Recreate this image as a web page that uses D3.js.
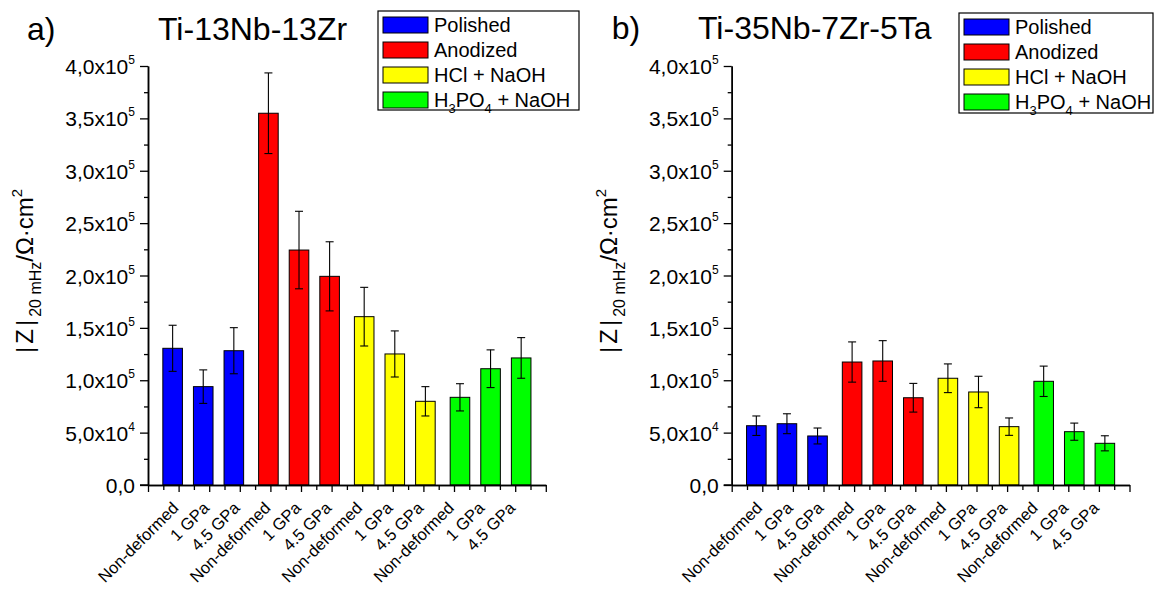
<!DOCTYPE html>
<html>
<head>
<meta charset="utf-8">
<script src="https://cdn.jsdelivr.net/npm/d3@7"></script>
<style>
  html, body { margin: 0; padding: 0; background: #fff; }
  svg { display: block; font-family: "Liberation Sans", Arial, sans-serif; }
</style>
</head>
<body>
<svg id="chart" width="1154" height="590"></svg>
<script>
// ---- data ----
const conditions = ["Non-deformed", "1 GPa", "4.5 GPa"];
const treatments = ["Polished", "Anodized", "HCl + NaOH", "H3PO4 + NaOH"];
const treatmentColors = ["#0000ff", "#ff0000", "#ffff00", "#00ff00"];

// Ti-13Nb-13Zr  (|Z| at 20 mHz, Ohm cm^2)
const a_polished   = [130500, 93900, 128200];
const a_anodized   = [354900, 224300, 199200];
const a_hclNaoh    = [160700, 125100, 79900];
const a_h3po4Naoh  = [83700, 111000, 121300];
const a_polishedErr  = [22000, 16000, 22000];
const a_anodizedErr  = [38500, 37000, 33000];
const a_hclNaohErr   = [28000, 22000, 14000];
const a_h3po4NaohErr = [13000, 18000, 19400];

// Ti-35Nb-7Zr-5Ta
const b_polished   = [56600, 58500, 46800];
const b_anodized   = [117400, 118400, 83300];
const b_hclNaoh    = [101900, 88800, 55700];
const b_h3po4Naoh  = [99000, 50900, 39800];
const b_polishedErr  = [9300, 9500, 7600];
const b_anodizedErr  = [19200, 19400, 13700];
const b_hclNaohErr   = [13700, 15000, 8300];
const b_h3po4NaohErr = [14500, 8200, 7200];

const yTickValues = [0, 50000, 100000, 150000, 200000, 250000, 300000, 350000, 400000];
const yTickMantissa = ["0,0", "5,0x10", "1,0x10", "1,5x10", "2,0x10", "2,5x10", "3,0x10", "3,5x10", "4,0x10"];
const yTickExponent = ["", "4", "5", "5", "5", "5", "5", "5", "5"];

const panels = [
  { letter: "a)", title: "Ti-13Nb-13Zr",
    values: [a_polished, a_anodized, a_hclNaoh, a_h3po4Naoh],
    errors: [a_polishedErr, a_anodizedErr, a_hclNaohErr, a_h3po4NaohErr],
    axisX: 148, letterX: 27, titleX: 158, titleY: 40,
    legend: { x: 378, y: 11, w: 201, h: 99 } },
  { letter: "b)", title: "Ti-35Nb-7Zr-5Ta",
    values: [b_polished, b_anodized, b_hclNaoh, b_h3po4Naoh],
    errors: [b_polishedErr, b_anodizedErr, b_hclNaohErr, b_h3po4NaohErr],
    axisX: 731.7, letterX: 611.7, titleX: 698, titleY: 39,
    legend: { x: 959, y: 13, w: 194, h: 100 } }
];

// ---- drawing ----
const svg = d3.select("#chart");
const y0 = 485, yTop = 66;
const unit = 30.6;           // px per category step
const barW = 0.64;           // in category units
const groupShift = 0.13;     // Origin grouped-column offset per series

function drawPanel(p) {
  const g = svg.append("g");
  const x = d3.scaleLinear().domain([0, 13]).range([p.axisX, p.axisX + 13 * unit]);
  const y = d3.scaleLinear().domain([0, 400000]).range([y0, yTop]);

  // flatten bars
  const bars = [];
  p.values.forEach((arr, gi) => arr.forEach((v, ci) => {
    const pos = gi * conditions.length + ci + 1;
    bars.push({ pos, gi, v, e: p.errors[gi][ci], center: pos + (gi - 1.5) * groupShift });
  }));

  // bars
  g.selectAll("rect.bar").data(bars).enter().append("rect")
    .attr("class", "bar")
    .attr("x", d => x(d.center - barW / 2))
    .attr("width", d => x(d.center + barW / 2) - x(d.center - barW / 2))
    .attr("y", d => y(d.v))
    .attr("height", d => y(0) - y(d.v))
    .attr("fill", d => treatmentColors[d.gi])
    .attr("stroke", "#000").attr("stroke-width", 1);

  // error bars
  const eb = g.selectAll("g.err").data(bars).enter().append("g").attr("class", "err")
    .attr("stroke", "#000").attr("stroke-width", 1.1);
  eb.append("line").attr("x1", d => x(d.center)).attr("x2", d => x(d.center))
    .attr("y1", d => y(d.v + d.e)).attr("y2", d => y(d.v - d.e));
  eb.append("line").attr("x1", d => x(d.center) - 4).attr("x2", d => x(d.center) + 4)
    .attr("y1", d => y(d.v + d.e)).attr("y2", d => y(d.v + d.e));
  eb.append("line").attr("x1", d => x(d.center) - 4).attr("x2", d => x(d.center) + 4)
    .attr("y1", d => y(d.v - d.e)).attr("y2", d => y(d.v - d.e));

  // y axis: minor ticks
  const yMinor = d3.axisLeft(y).tickValues(d3.range(25000, 400000, 50000)).tickSize(4).tickSizeOuter(0).tickFormat("");
  const yMajor = d3.axisLeft(y).tickValues(yTickValues).tickSize(8).tickSizeOuter(0).tickFormat("");
  const ga1 = g.append("g").attr("transform", `translate(${p.axisX},0)`).call(yMinor);
  const ga2 = g.append("g").attr("transform", `translate(${p.axisX},0)`).call(yMajor);
  [ga1, ga2].forEach(a => { a.selectAll("line").attr("stroke", "#000").attr("stroke-width", 1.3); a.select(".domain").attr("stroke", "#000").attr("stroke-width", 1.5); });

  // y tick labels
  const yl = g.selectAll("text.ytl").data(yTickValues).enter().append("text")
    .attr("class", "ytl")
    .attr("x", p.axisX - 13)
    .attr("y", d => y(d) + 8)
    .attr("text-anchor", "end")
    .attr("font-size", 21).attr("fill", "#000");
  yl.append("tspan").text((d, i) => yTickMantissa[i]);
  yl.append("tspan").attr("font-size", 12).attr("dy", -10).text((d, i) => yTickExponent[i]);

  // x axis
  const xMinor = d3.axisBottom(x).tickValues(d3.range(0.5, 13, 1)).tickSize(5).tickSizeOuter(0).tickFormat("");
  const xMajor = d3.axisBottom(x).tickValues(d3.range(0, 14, 1)).tickSize(7).tickSizeOuter(0).tickFormat("");
  const gx1 = g.append("g").attr("transform", `translate(0,${y0})`).call(xMinor);
  const gx2 = g.append("g").attr("transform", `translate(0,${y0})`).call(xMajor);
  [gx1, gx2].forEach(a => { a.selectAll("line").attr("stroke", "#000").attr("stroke-width", 1.3); a.select(".domain").attr("stroke", "#000").attr("stroke-width", 1.5); });
  g.append("line").attr("x1", p.axisX - 8).attr("x2", p.axisX).attr("y1", y0).attr("y2", y0)
    .attr("stroke", "#000").attr("stroke-width", 1.5);

  // x labels (rotated)
  const xLabels = [];
  treatments.forEach(() => conditions.forEach(c => xLabels.push(c)));
  g.selectAll("text.xl").data(xLabels).enter().append("text")
    .attr("class", "xl")
    .attr("text-anchor", "end")
    .attr("font-size", 16.5)
    .attr("transform", (d, i) => `translate(${x(i + 1) + 1},${y0 + 24}) rotate(-45)`)
    .text(d => d);

  // y axis title
  const yt = g.append("text")
    .attr("transform", `translate(${p.axisX - 115},${y0 - 132}) rotate(-90)`)
    .attr("font-size", 24).attr("fill", "#000");
  yt.append("tspan").attr("letter-spacing", 3).text("|Z|");
  yt.append("tspan").attr("font-size", 16).attr("dy", 8).text("20 mHz");
  yt.append("tspan").attr("dy", -8).text("/Ω·cm");
  yt.append("tspan").attr("font-size", 15).attr("dy", -11).text("2");

  // titles
  g.append("text").attr("x", p.letterX).attr("y", p.titleY).attr("font-size", 32).text(p.letter);
  g.append("text").attr("x", p.titleX).attr("y", p.titleY).attr("font-size", 32).text(p.title);

  // legend
  const L = p.legend;
  g.append("rect").attr("x", L.x).attr("y", L.y).attr("width", L.w).attr("height", L.h)
    .attr("fill", "#fff").attr("stroke", "#000").attr("stroke-width", 1.2);
  const li = g.selectAll("g.leg").data(treatments).enter().append("g").attr("class", "leg")
    .attr("transform", (d, i) => `translate(${L.x + 5},${L.y + 6 + i * 25})`);
  li.append("rect").attr("width", 45).attr("height", 16)
    .attr("fill", (d, i) => treatmentColors[i]).attr("stroke", "#000").attr("stroke-width", 1);
  li.each(function (d) {
    const t = d3.select(this).append("text").attr("x", 51).attr("y", 14.5).attr("font-size", 20);
    if (d === "H3PO4 + NaOH") {
      t.append("tspan").text("H");
      t.append("tspan").attr("font-size", 13).attr("dy", 6).text("3");
      t.append("tspan").attr("dy", -6).text("PO");
      t.append("tspan").attr("font-size", 13).attr("dy", 6).text("4");
      t.append("tspan").attr("dy", -6).text(" + NaOH");
    } else {
      t.text(d);
    }
  });
}

panels.forEach(drawPanel);
</script>
</body>
</html>
